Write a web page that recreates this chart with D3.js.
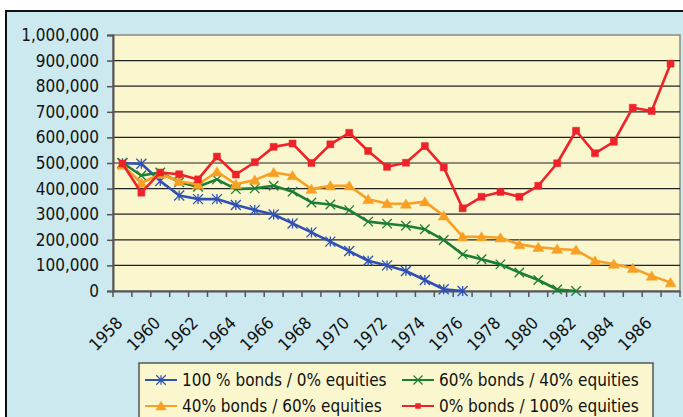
<!DOCTYPE html>
<html>
<head>
<meta charset="utf-8">
<script src="https://cdn.jsdelivr.net/npm/d3@7"></script>
<style>
  body { margin: 0; background: #fff; }
  svg { display: block; }
  text { font-family: 'DejaVu Sans Condensed', 'DejaVu Sans', sans-serif; font-stretch: condensed; fill: #111; }
</style>
</head>
<body>
<div id="chart"></div>
<script>
// Years on the category axis
const years = [1958, 1959, 1960, 1961, 1962, 1963, 1964, 1965, 1966, 1967,
  1968, 1969, 1970, 1971, 1972, 1973, 1974, 1975, 1976, 1977,
  1978, 1979, 1980, 1981, 1982, 1983, 1984, 1985, 1986, 1987];

// Portfolio values (null = series has ended)
const bonds100 = [499000, 497000, 430000, 373000, 359000, 359000, 336000, 316000, 299000, 264000,
  229000, 193000, 156000, 118000, 100000, 78000, 43000, 7000, 0, null,
  null, null, null, null, null, null, null, null, null, null];
const bonds60 = [501000, 451000, 463000, 425000, 407000, 436000, 398000, 401000, 411000, 388000,
  346000, 338000, 316000, 271000, 263000, 255000, 241000, 199000, 143000, 124000,
  104000, 72000, 43000, 6000, 0, null, null, null, null, null];
const bonds40 = [492000, 422000, 457000, 429000, 416000, 466000, 417000, 434000, 463000, 451000,
  398000, 411000, 411000, 358000, 342000, 340000, 349000, 294000, 212000, 212000,
  208000, 182000, 171000, 164000, 160000, 118000, 105000, 89000, 59000, 33000];
const bonds0 = [498000, 384000, 463000, 456000, 436000, 525000, 455000, 503000, 563000, 576000,
  500000, 573000, 618000, 547000, 485000, 501000, 566000, 483000, 323000, 368000,
  387000, 368000, 411000, 499000, 626000, 538000, 583000, 716000, 703000, 888000];

const seriesNames = ['100 % bonds / 0% equities', '60% bonds / 40% equities',
  '40% bonds / 60% equities', '0% bonds / 100% equities'];
const yTicks = [0, 100000, 200000, 300000, 400000, 500000, 600000, 700000, 800000, 900000, 1000000];

// Custom marker shapes (Excel style)
const star = { draw(ctx, size) {
  const r = Math.sqrt(size) / 2;
  ctx.moveTo(0, -r); ctx.lineTo(0, r);
  ctx.moveTo(-r, -r); ctx.lineTo(r, r);
  ctx.moveTo(-r, r); ctx.lineTo(r, -r);
} };
const cross = { draw(ctx, size) {
  const r = Math.sqrt(size) / 2;
  ctx.moveTo(-r, -r); ctx.lineTo(r, r);
  ctx.moveTo(-r, r); ctx.lineTo(r, -r);
} };
const tri = { draw(ctx, size) {
  const r = Math.sqrt(size) / 2;
  ctx.moveTo(0, -r); ctx.lineTo(r * 1.1, r * 0.85); ctx.lineTo(-r * 1.1, r * 0.85); ctx.closePath();
} };
const square = { draw(ctx, size) {
  const r = Math.sqrt(size) / 2;
  ctx.rect(-r, -r, 2 * r, 2 * r);
} };

const series = [
  { name: seriesNames[0], values: bonds100, color: '#3050b4', shape: star, size: 100, filled: false },
  { name: seriesNames[1], values: bonds60, color: '#1d7d35', shape: cross, size: 90, filled: false },
  { name: seriesNames[2], values: bonds40, color: '#f8a024', shape: tri, size: 100, filled: true },
  { name: seriesNames[3], values: bonds0, color: '#ee2229', shape: square, size: 49, filled: true }
];

const width = 683, height = 417;
const plot = { left: 113, right: 680, top: 35, bottom: 291 };

const svg = d3.select('#chart').append('svg')
  .attr('width', width)
  .attr('height', height);

svg.append('rect').attr('width', width).attr('height', height).attr('fill', '#fff');

// Chart area
svg.append('rect')
  .attr('x', 6).attr('y', 11)
  .attr('width', 700).attr('height', 430)
  .attr('fill', '#cde9f0')
  .attr('stroke', '#111').attr('stroke-width', 2);

// Plot area
svg.append('rect')
  .attr('x', plot.left).attr('y', plot.top)
  .attr('width', plot.right - plot.left).attr('height', plot.bottom - plot.top)
  .attr('fill', '#faf7cf')
  .attr('stroke', '#8a8a80').attr('stroke-width', 1.5);

const x = d3.scaleBand().domain(years).range([plot.left, plot.right]);
const y = d3.scaleLinear().domain([0, 1000000]).range([plot.bottom, plot.top]);

// Gridlines
svg.append('g')
  .selectAll('line')
  .data(yTicks.slice(1, -1))
  .join('line')
    .attr('x1', plot.left).attr('x2', plot.right)
    .attr('y1', d => y(d)).attr('y2', d => y(d))
    .attr('stroke', '#222').attr('stroke-width', 1.2);

// Y axis
const yAxis = svg.append('g')
  .attr('transform', `translate(${plot.left},0)`)
  .call(d3.axisLeft(y).tickValues(yTicks).tickSize(6).tickPadding(8).tickFormat(d3.format(',')));
yAxis.select('.domain').attr('stroke', '#555').attr('stroke-width', 2);
yAxis.selectAll('.tick line').attr('stroke', '#555').attr('stroke-width', 1.5);
yAxis.selectAll('.tick text').attr('font-size', 17).attr('fill', '#111');

// X axis: labels every other year, ticks at category boundaries
const xAxis = svg.append('g')
  .attr('transform', `translate(0,${plot.bottom})`)
  .call(d3.axisBottom(x).tickValues(years.filter(d => d % 2 === 0)).tickSize(0).tickPadding(0));
xAxis.select('.domain').attr('stroke', '#555').attr('stroke-width', 2);
xAxis.selectAll('.tick text')
  .attr('font-size', 17).attr('fill', '#111')
  .attr('text-anchor', 'end')
  .attr('dy', '0.35em')
  .attr('transform', 'translate(-3,29) rotate(-45)');

svg.append('g')
  .selectAll('line')
  .data(years.map(d => x(d)).concat([plot.right]))
  .join('line')
    .attr('x1', d => d).attr('x2', d => d)
    .attr('y1', plot.bottom).attr('y2', plot.bottom + 6)
    .attr('stroke', '#555').attr('stroke-width', 1.5);

// Series lines and markers
const cx = d => x(d) + x.bandwidth() / 2;
const line = d3.line()
  .defined(d => d.v !== null)
  .x(d => cx(d.year))
  .y(d => y(d.v));

series.forEach(s => {
  const pts = years.map((yr, i) => ({ year: yr, v: s.values[i] }));
  svg.append('path')
    .datum(pts)
    .attr('d', line)
    .attr('fill', 'none')
    .attr('stroke', s.color)
    .attr('stroke-width', 2.6)
    .attr('stroke-linejoin', 'round');
  svg.append('g')
    .selectAll('path')
    .data(pts.filter(d => d.v !== null))
    .join('path')
      .attr('transform', d => `translate(${cx(d.year)},${y(d.v)})`)
      .attr('d', d3.symbol().type(s.shape).size(s.size))
      .attr('fill', s.filled ? s.color : 'none')
      .attr('stroke', s.color)
      .attr('stroke-width', s.filled ? 0.5 : 1.3);
});

// Legend
const legend = svg.append('g');
legend.append('rect')
  .attr('x', 139).attr('y', 363)
  .attr('width', 514).attr('height', 70)
  .attr('fill', '#faf7cf')
  .attr('stroke', '#555').attr('stroke-width', 1.5);

const legendPos = [[145, 380], [402, 380], [145, 406], [402, 406]];
series.forEach((s, i) => {
  const [lx, ly] = legendPos[i];
  legend.append('line')
    .attr('x1', lx).attr('x2', lx + 32)
    .attr('y1', ly).attr('y2', ly)
    .attr('stroke', s.color).attr('stroke-width', 2);
  legend.append('path')
    .attr('transform', `translate(${lx + 16},${ly})`)
    .attr('d', d3.symbol().type(s.shape).size(s === series[3] ? 25 : s.size * 0.9))
    .attr('fill', s.filled ? s.color : 'none')
    .attr('stroke', s.color)
    .attr('stroke-width', s.filled ? 0.5 : 1.2);
  legend.append('text')
    .attr('x', lx + 37).attr('y', ly)
    .attr('dy', '0.35em')
    .attr('font-size', 17)
    .text(s.name);
});
</script>
</body>
</html>
